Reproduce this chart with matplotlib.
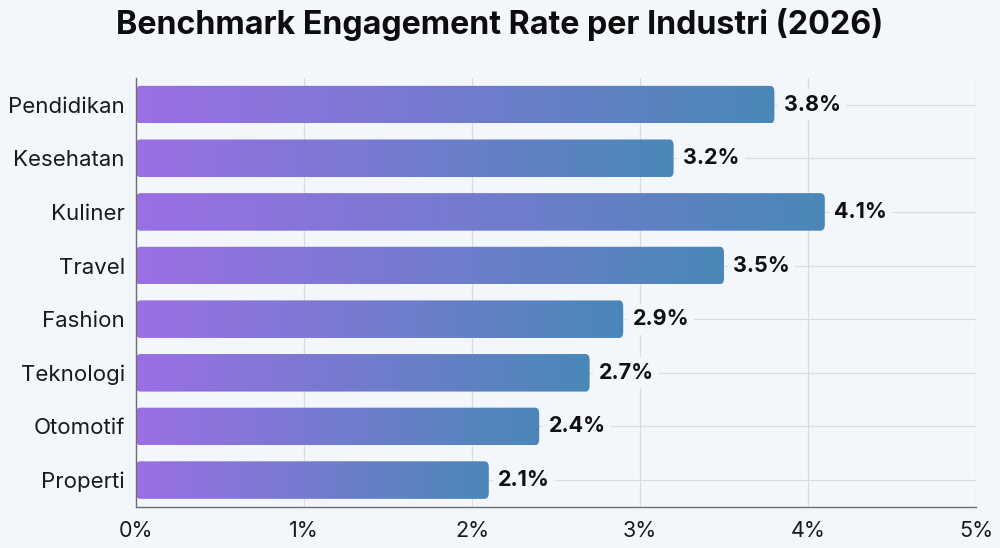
import matplotlib
matplotlib.use('Agg')
import matplotlib.pyplot as plt
import numpy as np
from matplotlib.patches import FancyBboxPatch
from matplotlib.colors import LinearSegmentedColormap

# data
industries = ['Pendidikan', 'Kesehatan', 'Kuliner', 'Travel',
              'Fashion', 'Teknologi', 'Otomotif', 'Properti']
rates = [3.8, 3.2, 4.1, 3.5, 2.9, 2.7, 2.4, 2.1]
x_ticks = [0, 1, 2, 3, 4, 5]

bg = '#f3f6fb'
plt.rcParams['font.family'] = ['Inter', 'DejaVu Sans']

fig = plt.figure(figsize=(10, 5.48), dpi=100, facecolor=bg)
ax = fig.add_axes([0.136, 0.075, 0.840, 0.783], facecolor=bg)

cmap = LinearSegmentedColormap.from_list('grad', ['#9b6fe4', '#4a88b8'])
grad = np.linspace(0, 1, 256).reshape(1, -1)

ypos = np.arange(len(industries))
bar_h = 0.7
for y, v in zip(ypos, rates):
    patch = FancyBboxPatch((0, y - bar_h / 2), v, bar_h,
                           boxstyle='round,pad=0,rounding_size=0.025',
                           mutation_aspect=4.5,
                           linewidth=0, facecolor='none', zorder=3)
    ax.add_patch(patch)
    im = ax.imshow(grad, cmap=cmap, aspect='auto',
                   extent=(0, v, y + bar_h / 2, y - bar_h / 2),
                   zorder=3, interpolation='bilinear')
    im.set_clip_path(patch)
    ax.text(v + 0.055, y, '%.1f%%' % v, va='center', ha='left',
            fontsize=15.5, fontweight='bold', color='#111111', zorder=4,
            bbox=dict(boxstyle='square,pad=0.25', fc=bg, ec='none'))

ax.set_xlim(0, 5)
ax.set_ylim(len(industries) - 0.5, -0.5)
ax.set_xticks(x_ticks)
ax.set_xticklabels(['%d%%' % t for t in x_ticks], fontsize=15.5, color='#1a1a1a')
ax.set_yticks(ypos)
ax.set_yticklabels(industries, fontsize=16, color='#1a1a1a')
ax.tick_params(length=0, pad=8)
ax.tick_params(axis='x', pad=10)

ax.grid(True, color='#d9dce2', linewidth=0.9, zorder=0)
ax.set_axisbelow(True)
for s in ['top', 'right']:
    ax.spines[s].set_visible(False)
for s in ['left', 'bottom']:
    ax.spines[s].set_color('#6b6f76')
    ax.spines[s].set_linewidth(1.0)
    ax.spines[s].set_zorder(5)

fig.suptitle('Benchmark Engagement Rate per Industri (2026)', fontsize=23.2,
             fontweight='bold', color='#0d0d0d', x=0.5, y=0.985)

fig.savefig('out.png', dpi=100, facecolor=bg)
